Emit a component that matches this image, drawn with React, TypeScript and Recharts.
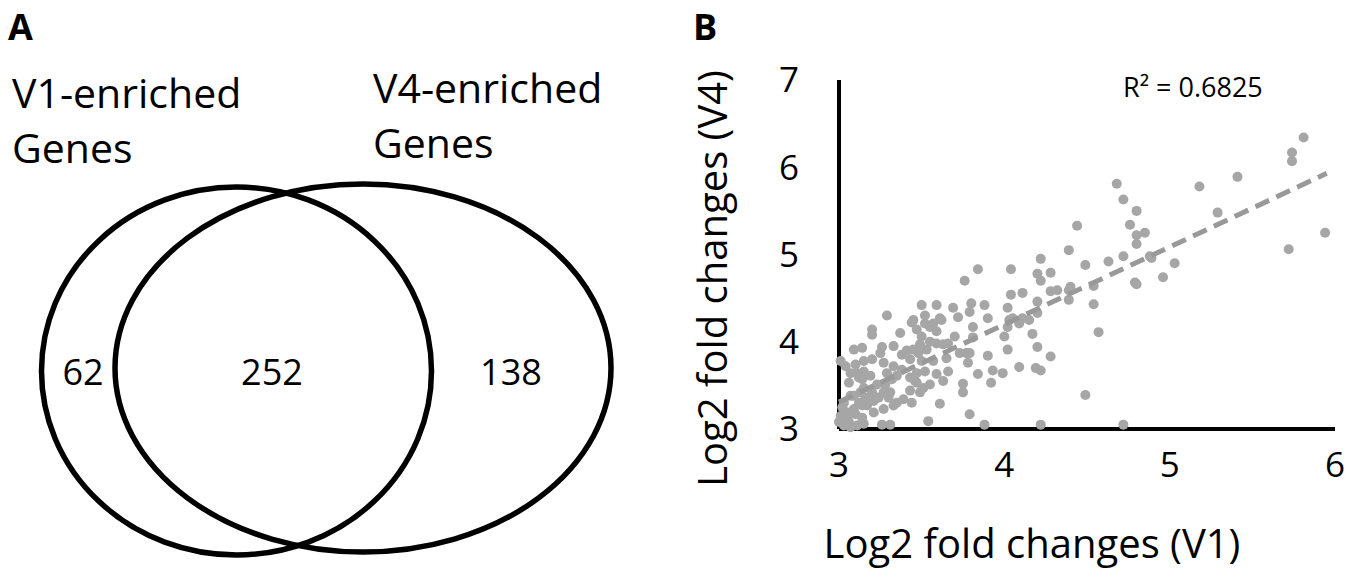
import React from 'react';
import { ScatterChart, Scatter, XAxis, YAxis } from 'recharts';

const FONT = '"Open Sans", "Noto Sans", sans-serif';

// ---------- Panel A: Venn data ----------
const vennSetNames = [
  ['V1-enriched', 'Genes'],
  ['V4-enriched', 'Genes'],
];
const vennRegionCounts = [62, 252, 138]; // V1 only, both, V4 only

// ---------- Panel B: scatter data ----------
const v1Fold = [
  5.81, 5.74, 5.74, 5.94, 5.72, 5.41, 5.18, 5.29, 4.68, 4.72, 4.80, 4.76, 4.80, 4.85, 4.80, 4.72,
  4.88, 4.89, 5.03, 4.96, 4.79, 4.80, 4.63, 4.49, 4.44, 4.39, 4.54, 4.54, 4.57, 4.49, 4.72, 4.39,
  4.39, 4.40, 4.32, 4.28, 4.22, 4.20, 4.22, 4.28, 4.20, 4.20, 4.17, 4.20, 4.28, 4.19, 4.22, 4.22,
  4.11, 4.04, 4.04, 4.02, 4.03, 4.05, 4.11, 4.15, 4.09, 4.02, 4.00, 4.02, 4.09, 3.99, 3.93, 3.90,
  3.90, 3.88, 3.84, 3.76, 3.80, 3.79, 3.81, 3.81, 3.77, 3.79, 3.78, 3.84, 3.92, 3.75, 3.75, 3.79,
  3.88, 3.72, 3.69, 3.70, 3.66, 3.61, 3.59, 3.50, 3.52, 3.55, 3.44, 3.47, 3.50, 3.37, 3.29, 3.20,
  3.20, 3.09, 3.14, 3.26, 3.33, 3.25, 3.38, 3.43, 3.48, 3.53, 3.59, 3.63, 3.65, 3.66, 3.63, 3.61,
  3.54, 3.59, 3.55, 3.51, 3.49, 3.46, 3.44, 3.43, 3.39, 3.35, 3.33, 3.27, 3.31, 3.29, 3.27, 3.33,
  3.38, 3.35, 3.23, 3.20, 3.20, 3.15, 3.10, 3.04, 3.01, 3.15, 3.12, 3.06, 3.15, 3.13, 3.07, 3.03,
  3.02, 3.01, 3.05, 3.10, 3.14, 3.15, 3.11, 3.07, 3.03, 3.09, 3.17, 3.21, 3.26, 3.31, 3.09, 3.06,
  3.00, 3.21, 3.24, 3.27, 3.32, 3.28, 3.30, 3.47, 3.43, 3.47, 3.52, 3.57, 3.50, 3.45, 3.41, 3.49,
  3.55, 3.59, 3.62, 3.57, 3.52, 3.45, 3.73, 3.11, 3.07, 3.19, 3.14, 3.12, 3.16, 3.05, 3.14,
];
const v4Fold = [
  6.34, 6.17, 6.07, 5.25, 5.06, 5.89, 5.78, 5.48, 5.81, 5.63, 5.50, 5.34, 5.22, 5.25, 5.12, 4.98,
  4.98, 4.96, 4.90, 4.74, 4.68, 4.66, 4.92, 4.88, 5.33, 5.05, 4.64, 4.43, 4.11, 3.39, 3.05, 4.59,
  4.48, 4.63, 4.59, 4.58, 4.95, 4.78, 4.70, 4.79, 4.46, 4.33, 4.09, 3.94, 3.83, 3.70, 3.67, 3.05,
  4.56, 4.83, 4.54, 4.39, 4.25, 4.27, 4.27, 4.25, 4.21, 4.17, 4.06, 3.91, 3.71, 3.64, 3.67, 3.84,
  4.27, 4.42, 4.83, 4.70, 4.44, 4.34, 4.17, 4.05, 3.87, 3.87, 3.76, 3.63, 3.53, 3.52, 3.42, 3.17,
  3.05, 4.28, 4.39, 4.06, 3.98, 4.27, 4.42, 4.42, 4.30, 4.17, 4.22, 4.14, 4.06, 4.10, 4.30, 4.14,
  4.08, 3.91, 3.93, 3.94, 3.95, 3.87, 3.85, 3.80, 3.87, 3.91, 3.98, 3.97, 3.81, 3.66, 3.55, 3.29,
  3.09, 3.63, 3.51, 3.47, 3.42, 3.55, 3.30, 3.44, 3.34, 3.30, 3.27, 3.23, 3.42, 3.64, 3.76, 3.72,
  3.68, 3.61, 3.51, 3.42, 3.80, 3.78, 3.74, 3.72, 3.78, 3.66, 3.59, 3.53, 3.47, 3.42, 3.38, 3.30,
  3.25, 3.15, 3.11, 3.17, 3.13, 3.06, 3.04, 3.02, 3.04, 3.38, 3.27, 3.19, 3.05, 3.05, 3.23, 3.08,
  3.08, 3.32, 3.36, 3.42, 3.57, 3.51, 3.36, 3.64, 3.59, 3.53, 3.66, 3.78, 3.78, 3.91, 3.90, 3.97,
  4.00, 4.12, 4.25, 4.21, 4.21, 4.25, 3.87, 3.64, 3.64, 3.61, 3.57, 3.30, 3.36, 3.19, 3.27,
];
const trendX = [3.0, 5.95];
const trendY = [3.31, 5.93];
const rSquaredText = 'R² = 0.6825';
const xTicks = [3, 4, 5, 6];
const yTicks = [3, 4, 5, 6, 7];
const xLabel = 'Log2 fold changes (V1)';
const yLabel = 'Log2 fold changes (V4)';

// ---------- layout (pixel space of panel A) ----------
const A_W = 680;
const A_H = 572;
const vennShapes = [
  { x: 236.5, y: 371, rx: 195, ry: 184 },
  { x: 363, y: 368, rx: 248, ry: 184 },
];
const vennCountPos = [
  { x: 83, y: 385 },
  { x: 272, y: 385 },
  { x: 511, y: 385 },
];
const vennTitlePos = [
  { x: 12, y: 108 },
  { x: 373, y: 103 },
];

const ellipseData = vennShapes.map((s) => ({ ...s }));
const countData = vennRegionCounts.map((c, i) => ({ ...vennCountPos[i], label: String(c) }));
const scatterData = v1Fold.map((x, i) => ({ x, y: v4Fold[i] }));
const trendData = trendX.map((x, i) => ({ x, y: trendY[i] }));

const EllipseShape = (p: any) => (
  <ellipse cx={p.cx} cy={p.cy} rx={p.payload.rx} ry={p.payload.ry} fill="none" stroke="#000" strokeWidth={5.5} />
);
const CountShape = (p: any) => (
  <text x={p.cx} y={p.cy} textAnchor="middle" fontFamily={FONT} fontSize={36} fill="#000">
    {p.payload.label}
  </text>
);
const DotShape = (p: any) => <circle cx={p.cx} cy={p.cy} r={5} fill="#a6a6a6" />;
const NoShape = () => <g />;

export default function App() {
  return (
    <div style={{ position: 'absolute', left: 0, top: 0, width: 1361, height: 572, background: '#fff', fontFamily: FONT }}>
      <div style={{ position: 'absolute', left: 0, top: 0 }}>
        <ScatterChart width={A_W} height={A_H} margin={{ top: 0, right: 0, bottom: 0, left: 0 }}>
          <XAxis type="number" dataKey="x" domain={[0, A_W]} hide />
          <YAxis type="number" dataKey="y" domain={[0, A_H]} reversed hide />
          <Scatter data={ellipseData} shape={EllipseShape} isAnimationActive={false} />
          <Scatter data={countData} shape={CountShape} isAnimationActive={false} />
          <text x={8} y={40} fontFamily={FONT} fontWeight={700} fontSize={36} fill="#000">A</text>
          {vennSetNames.map((lines, i) => (
            <text key={i} fontFamily={FONT} fontSize={41} fill="#000">
              {lines.map((l, j) => (
                <tspan key={j} x={vennTitlePos[i].x} y={vennTitlePos[i].y + j * 55}>{l}</tspan>
              ))}
            </text>
          ))}
        </ScatterChart>
      </div>
      <div style={{ position: 'absolute', left: 680, top: 0 }}>
        <ScatterChart width={681} height={572} margin={{ top: 80, right: 26, bottom: 83, left: 99 }}>
          <XAxis
            type="number"
            dataKey="x"
            domain={[3, 6]}
            ticks={xTicks}
            interval={0}
            tickLine={false}
            tickSize={0}
            tickMargin={23}
            axisLine={{ stroke: '#000', strokeWidth: 4 }}
            tick={{ fill: '#000', fontSize: 35, fontFamily: FONT }}
            height={60}
            label={{ value: xLabel, position: 'center', dx: -55, dy: 85, fill: '#000', fontSize: 40, fontFamily: FONT }}
          />
          <YAxis
            type="number"
            dataKey="y"
            domain={[3, 7]}
            ticks={yTicks}
            interval={0}
            tickLine={false}
            tickSize={0}
            tickMargin={40}
            axisLine={{ stroke: '#000', strokeWidth: 4 }}
            tick={{ fill: '#000', fontSize: 35, fontFamily: FONT }}
            width={60}
            label={{ value: yLabel, angle: -90, position: 'center', dx: -96, dy: 24, fill: '#000', fontSize: 40, fontFamily: FONT }}
          />
          <Scatter data={scatterData} shape={DotShape} isAnimationActive={false} />
          <Scatter
            data={trendData}
            shape={NoShape}
            line={{ stroke: '#999999', strokeWidth: 5, strokeDasharray: '15 8' }}
            isAnimationActive={false}
          />
          <text x={13} y={40} fontFamily={FONT} fontWeight={700} fontSize={36} fill="#000">B</text>
          <text x={443} y={97} fontFamily={FONT} fontSize={27} fill="#000">{rSquaredText}</text>
        </ScatterChart>
      </div>
    </div>
  );
}
